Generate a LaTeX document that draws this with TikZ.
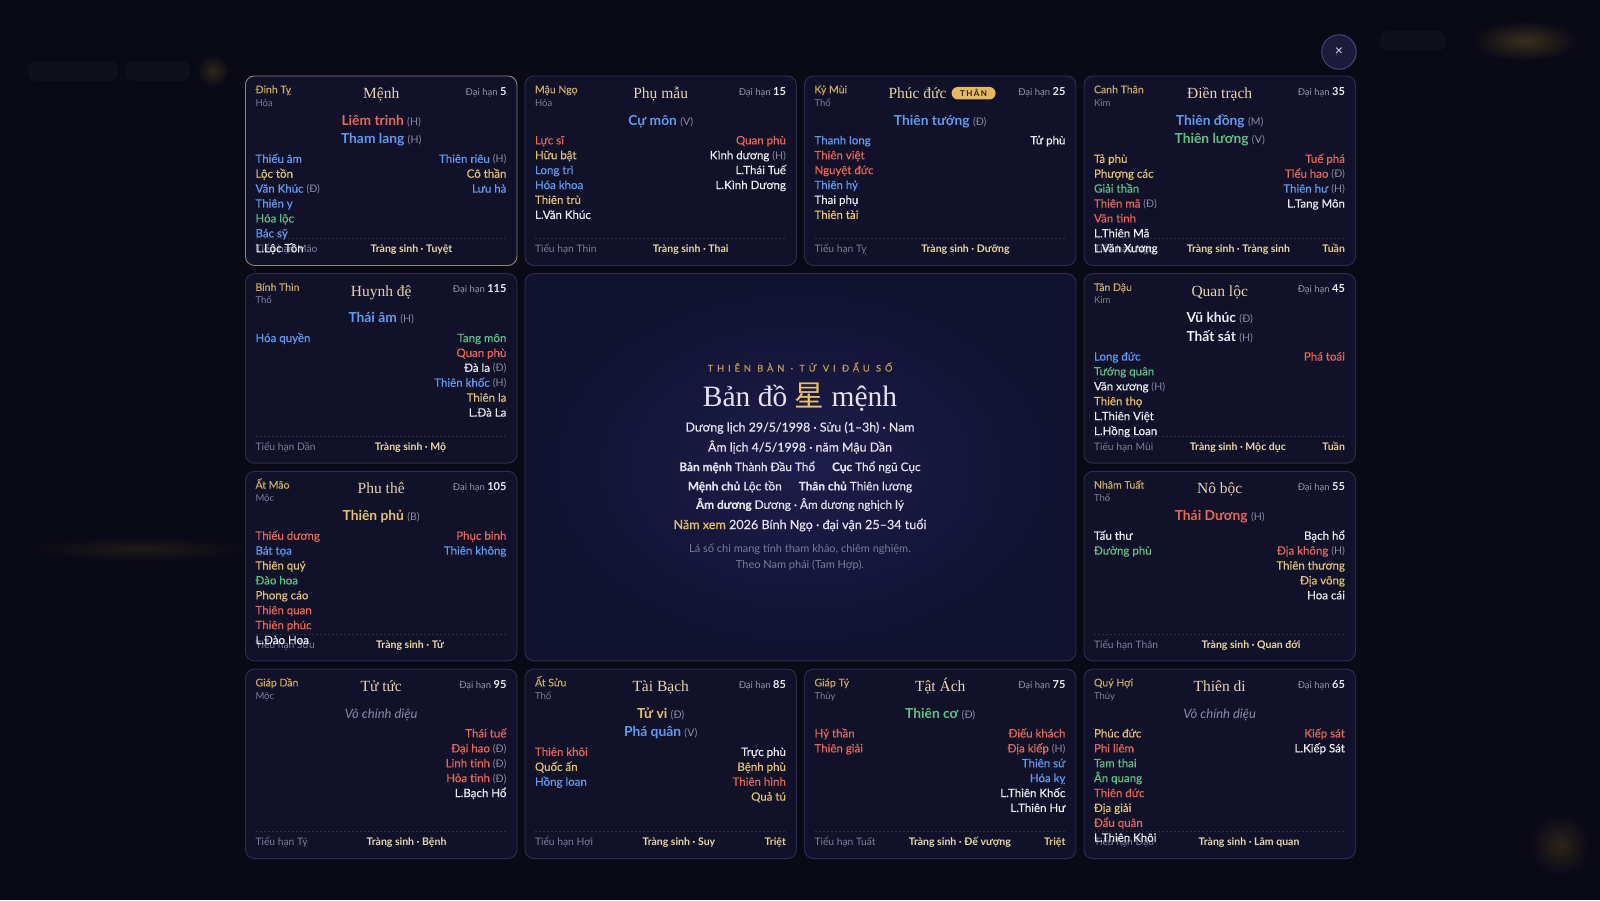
\documentclass[tikz,border=0pt]{standalone}
\usepackage{fontspec}
\setmainfont{Lato}
\newfontfamily\medfont[FakeBold=0.3]{Lato}
\newfontfamily\cungfont{Liberation Serif}
\newfontfamily\cjk{Noto Sans CJK SC}
\usetikzlibrary{calc}
\usetikzlibrary{positioning}
\definecolor{pagebg}{HTML}{0A0A16}
\definecolor{blurbg}{HTML}{10101C}
\definecolor{blurgold}{HTML}{3A2F1C}
\definecolor{cellbg}{HTML}{11112A}
\definecolor{cellline}{HTML}{2E2E4B}
\definecolor{menhline}{HTML}{8E8574}
\definecolor{ccanchi}{HTML}{C9A962}
\definecolor{chanh}{HTML}{7E7E98}
\definecolor{ccung}{HTML}{E6D3B0}
\definecolor{muted}{HTML}{9494AC}
\definecolor{qual}{HTML}{8A8AA4}
\definecolor{sred}{HTML}{E8665A}
\definecolor{sblue}{HTML}{5E9CF0}
\definecolor{sgold}{HTML}{E4C26C}
\definecolor{sgreen}{HTML}{5CC28A}
\definecolor{swhite}{HTML}{ECECF4}
\definecolor{ctsinh}{HTML}{E8D8A8}
\definecolor{ctuan}{HTML}{E8CE88}
\definecolor{csep}{HTML}{2E2E4A}
\definecolor{ctrin}{HTML}{1D1D4A}
\definecolor{ctrout}{HTML}{111130}
\definecolor{btnbg}{HTML}{1D1A3C}
\definecolor{btnline}{HTML}{4C4888}
\definecolor{cbadge}{HTML}{E2B865}
\definecolor{cbadgetext}{HTML}{2B1F0B}
\definecolor{lead}{HTML}{E4E2F2}
\definecolor{cnote}{HTML}{7A7A98}
\definecolor{ckicker}{HTML}{BC9E5E}
\newcommand{\q}[1]{{\normalfont\fontsize{10.5}{12}\selectfont\color{qual}(#1)}}
\newcommand{\daihan}[1]{Đại hạn {\fontsize{11}{12}\selectfont\bfseries\color{swhite}#1}}
\tikzset{
    cell/.style={draw=cellline, fill=cellbg, line width=0.9pt, rounded corners=9pt,
        anchor=north west, minimum width=271.5pt, minimum height=189.5pt, inner sep=0pt},
    txt/.style={inner sep=0pt, outer sep=0pt},
    canchi/.style={txt, anchor=mid west, text=ccanchi, font=\medfont\fontsize{10.5}{12}\selectfont},
    hanh/.style={txt, anchor=mid west, text=chanh, font=\fontsize{9.5}{11}\selectfont},
    cung/.style={txt, anchor=mid, text=ccung, font=\cungfont\fontsize{15.5}{18}\selectfont},
    daihanlbl/.style={txt, anchor=mid east, text=muted, font=\fontsize{9.5}{11}\selectfont},
    chinh/.style={txt, anchor=mid, font=\bfseries\fontsize{13.8}{15}\selectfont},
    voct/.style={txt, anchor=mid, text=qual, font=\itshape\fontsize{13}{14}\selectfont},
    saoL/.style={txt, anchor=mid west, font=\medfont\fontsize{11.5}{13}\selectfont},
    saoR/.style={txt, anchor=mid east, font=\medfont\fontsize{11.5}{13}\selectfont},
    tieuhan/.style={txt, anchor=mid west, text=chanh, font=\fontsize{10.3}{12}\selectfont},
    trangsinh/.style={txt, anchor=mid, text=ctsinh, font=\bfseries\fontsize{10.5}{12}\selectfont},
    tuantriet/.style={txt, anchor=mid east, text=ctuan, font=\bfseries\fontsize{10.5}{12}\selectfont},
    dashsep/.style={draw=csep, line width=0.6pt, dash pattern=on 2pt off 2pt},
    badge/.style={fill=cbadge, rounded corners=6.2pt, minimum width=44pt, minimum height=12.5pt,
        inner sep=0pt, text=cbadgetext, font=\bfseries\fontsize{8}{8}\selectfont\addfontfeature{LetterSpace=18}},
    closebtn/.style={circle, draw=btnline, fill=btnbg, line width=0.9pt, minimum size=34.5pt,
        inner sep=0pt, text=swhite!80!muted, font=\fontsize{14}{14}\selectfont},
    ctkicker/.style={txt, anchor=mid, text=ckicker, font=\medfont\fontsize{9.3}{10}\selectfont\addfontfeature{LetterSpace=42}},
    cttitle/.style={txt, anchor=mid, text=lead, font=\cungfont\fontsize{29.5}{32}\selectfont},
    ctline/.style={txt, anchor=mid, text=lead, font=\medfont\fontsize{12.4}{14}\selectfont},
    ctsmall/.style={txt, anchor=mid, text=lead, font=\medfont\fontsize{11.8}{13}\selectfont},
    ctnote/.style={txt, anchor=center, align=center, text=cnote, font=\fontsize{11}{15.3}\selectfont}
}
% frame, can chi, hanh, dai han and the dashed rule of one palace
\newcommand{\palace}[6][]{%
    \node[cell, #1] (#2) at (#3) {};
    \node[canchi] (#2-cc) at ($(#2.north west)+(10.5,15.2)$) {#4};
    \node[hanh] (#2-hanh) at ($(#2.north west)+(10.5,28)$) {#5};
    \node[daihanlbl] (#2-dh) at ($(#2.north east)+(-11,17)$) {\daihan{#6}};
    \draw[dashsep] ($(#2.north west)+(10.5,163)$) -- ($(#2.north east)+(-10.5,163)$);
}
% bottom line: tieu han, trang sinh, tuan/triet
\newcommand{\footrow}[4]{%
    \node[tieuhan] (#1-th) at ($(#1.north west)+(10.5,174.8)$) {Tiểu hạn #2};
    \node[tuantriet] (#1-tt) at ($(#1.north east)+(-11,174.8)$) {#4};
    \node[trangsinh] (#1-ts) at ($(#1-th.mid east)!0.5!(#1-tt.mid west)$) {Tràng sinh · #3};
}

\begin{document}
\begin{tikzpicture}[x=1pt, y=-1pt]
    \fill[pagebg] (0,0) rectangle (1600,900);
    \useasboundingbox (0,0) rectangle (1600,900);

    % blurred page behind the chart
    \fill[blurbg, rounded corners=8pt] (28,61) rectangle (118,81);
    \fill[blurbg, rounded corners=8pt] (126,61) rectangle (190,81);
    \shade[inner color=blurgold!80!pagebg, outer color=pagebg] (213,71) circle (16);
    \fill[blurbg, rounded corners=8pt] (1380,31) rectangle (1445,51);
    \shade[inner color=blurgold, outer color=pagebg] (1525,41) ellipse (52 and 20);
    \shade[inner color=blurgold!70!pagebg, outer color=pagebg] (1560,845) circle (30);
    \shade[inner color=blurgold!45!pagebg, outer color=pagebg] (140,549) ellipse (110 and 12);

    \node[closebtn] (dong) at (1339,52) {×};

    % ---- row 1 ----
    \palace[draw=menhline]{menh}{245,75.5}{Đinh Tỵ}{Hỏa}{5}
    \node[cung] (menh-ten) at ($(menh.north)+(0,20.5)$) {Mệnh};
    \path ($(menh.north)+(0,47)$)
        node[chinh, sred] (menh-c1) {Liêm trinh \q{H}}
        ++(0,18.3) node[chinh, sblue] (menh-c2) {Tham lang \q{H}};
    \footrow{menh}{Mão}{Tuyệt}{}
    \path ($(menh.north west)+(10.5,84.8)$)
        node[saoL, sblue] (menh-l1) {Thiếu âm}
        ++(0,14.9) node[saoL, sgold] (menh-l2) {Lộc tồn}
        ++(0,14.9) node[saoL, sblue] (menh-l3) {Văn Khúc \q{Đ}}
        ++(0,14.9) node[saoL, sblue] (menh-l4) {Thiên y}
        ++(0,14.9) node[saoL, sgreen] (menh-l5) {Hóa lộc}
        ++(0,14.9) node[saoL, sblue] (menh-l6) {Bác sỹ}
        ++(0,14.9) node[saoL, swhite] (menh-l7) {L.Lộc Tồn};
    \path ($(menh.north east)+(-11,84.8)$)
        node[saoR, sblue] (menh-r1) {Thiên riêu \q{H}}
        ++(0,14.9) node[saoR, sgold] (menh-r2) {Cô thần}
        ++(0,14.9) node[saoR, sblue] (menh-r3) {Lưu hà};

    \palace{phumau}{524.5,75.5}{Mậu Ngọ}{Hỏa}{15}
    \node[cung] (phumau-ten) at ($(phumau.north)+(0,20.5)$) {Phụ mẫu};
    \path ($(phumau.north)+(0,47)$)
        node[chinh, sblue] (phumau-c1) {Cự môn \q{V}};
    \path ($(phumau.north west)+(10.5,66.3)$)
        node[saoL, sred] (phumau-l1) {Lực sĩ}
        ++(0,14.9) node[saoL, sgold] (phumau-l2) {Hữu bật}
        ++(0,14.9) node[saoL, sblue] (phumau-l3) {Long trì}
        ++(0,14.9) node[saoL, sblue] (phumau-l4) {Hóa khoa}
        ++(0,14.9) node[saoL, sgold] (phumau-l5) {Thiên trù}
        ++(0,14.9) node[saoL, swhite] (phumau-l6) {L.Văn Khúc};
    \path ($(phumau.north east)+(-11,66.3)$)
        node[saoR, sred] (phumau-r1) {Quan phù}
        ++(0,14.9) node[saoR, swhite] (phumau-r2) {Kình dương \q{H}}
        ++(0,14.9) node[saoR, swhite] (phumau-r3) {L.Thái Tuế}
        ++(0,14.9) node[saoR, swhite] (phumau-r4) {L.Kình Dương};
    \footrow{phumau}{Thìn}{Thai}{}

    \palace{phucduc}{804,75.5}{Kỷ Mùi}{Thổ}{25}
    \node[cung, anchor=mid east] (phucduc-ten) at ($(phucduc.north)+(6.2,20.5)$) {Phúc đức};
    \node[badge, right=5pt of phucduc-ten] (phucduc-than) {THÂN};
    \path ($(phucduc.north)+(0,47)$)
        node[chinh, sblue] (phucduc-c1) {Thiên tướng \q{Đ}};
    \path ($(phucduc.north west)+(10.5,66.3)$)
        node[saoL, sblue] (phucduc-l1) {Thanh long}
        ++(0,14.9) node[saoL, sred] (phucduc-l2) {Thiên việt}
        ++(0,14.9) node[saoL, sred] (phucduc-l3) {Nguyệt đức}
        ++(0,14.9) node[saoL, sblue] (phucduc-l4) {Thiên hỷ}
        ++(0,14.9) node[saoL, swhite] (phucduc-l5) {Thai phụ}
        ++(0,14.9) node[saoL, sgold] (phucduc-l6) {Thiên tài};
    \path ($(phucduc.north east)+(-11,66.3)$)
        node[saoR, swhite] (phucduc-r1) {Tử phù};
    \footrow{phucduc}{Tỵ}{Dưỡng}{}

    \palace{dientrach}{1083.5,75.5}{Canh Thân}{Kim}{35}
    \node[cung] (dientrach-ten) at ($(dientrach.north)+(0,20.5)$) {Điền trạch};
    \path ($(dientrach.north)+(0,47)$)
        node[chinh, sblue] (dientrach-c1) {Thiên đồng \q{M}}
        ++(0,18.3) node[chinh, sgreen] (dientrach-c2) {Thiên lương \q{V}};
    \path ($(dientrach.north east)+(-11,84.8)$)
        node[saoR, sred] (dientrach-r1) {Tuế phá}
        ++(0,14.9) node[saoR, sred] (dientrach-r2) {Tiểu hao \q{Đ}}
        ++(0,14.9) node[saoR, sblue] (dientrach-r3) {Thiên hư \q{H}}
        ++(0,14.9) node[saoR, swhite] (dientrach-r4) {L.Tang Môn};
    \footrow{dientrach}{Ngọ}{Tràng sinh}{Tuần}
    \path ($(dientrach.north west)+(10.5,84.8)$)
        node[saoL, sgold] (dientrach-l1) {Tả phù}
        ++(0,14.9) node[saoL, sgold] (dientrach-l2) {Phượng các}
        ++(0,14.9) node[saoL, sgreen] (dientrach-l3) {Giải thần}
        ++(0,14.9) node[saoL, sred] (dientrach-l4) {Thiên mã \q{Đ}}
        ++(0,14.9) node[saoL, sred] (dientrach-l5) {Văn tinh}
        ++(0,14.9) node[saoL, swhite] (dientrach-l6) {L.Thiên Mã}
        ++(0,14.9) node[saoL, swhite] (dientrach-l7) {L.Văn Xương};

    % ---- rows 2 and 3, sides ----
    \palace{huynhde}{245,273.2}{Bính Thìn}{Thổ}{115}
    \node[cung] (huynhde-ten) at ($(huynhde.north)+(0,20.5)$) {Huynh đệ};
    \path ($(huynhde.north)+(0,47)$)
        node[chinh, sblue] (huynhde-c1) {Thái âm \q{H}};
    \path ($(huynhde.north west)+(10.5,66.3)$)
        node[saoL, sblue] (huynhde-l1) {Hóa quyền};
    \path ($(huynhde.north east)+(-11,66.3)$)
        node[saoR, sgreen] (huynhde-r1) {Tang môn}
        ++(0,14.9) node[saoR, sred] (huynhde-r2) {Quan phù}
        ++(0,14.9) node[saoR, swhite] (huynhde-r3) {Đà la \q{Đ}}
        ++(0,14.9) node[saoR, sblue] (huynhde-r4) {Thiên khốc \q{H}}
        ++(0,14.9) node[saoR, sgold] (huynhde-r5) {Thiên la}
        ++(0,14.9) node[saoR, swhite] (huynhde-r6) {L.Đà La};
    \footrow{huynhde}{Dần}{Mộ}{}

    \palace{phuthe}{245,470.9}{Ất Mão}{Mộc}{105}
    \node[cung] (phuthe-ten) at ($(phuthe.north)+(0,20.5)$) {Phu thê};
    \path ($(phuthe.north)+(0,47)$)
        node[chinh, sgold] (phuthe-c1) {Thiên phủ \q{B}};
    \path ($(phuthe.north east)+(-11,66.3)$)
        node[saoR, sred] (phuthe-r1) {Phục binh}
        ++(0,14.9) node[saoR, sblue] (phuthe-r2) {Thiên không};
    \footrow{phuthe}{Sửu}{Tử}{}
    \path ($(phuthe.north west)+(10.5,66.3)$)
        node[saoL, sred] (phuthe-l1) {Thiếu dương}
        ++(0,14.9) node[saoL, sblue] (phuthe-l2) {Bát tọa}
        ++(0,14.9) node[saoL, sgold] (phuthe-l3) {Thiên quý}
        ++(0,14.9) node[saoL, sgreen] (phuthe-l4) {Đào hoa}
        ++(0,14.9) node[saoL, sgold] (phuthe-l5) {Phong cáo}
        ++(0,14.9) node[saoL, sred] (phuthe-l6) {Thiên quan}
        ++(0,14.9) node[saoL, sred] (phuthe-l7) {Thiên phúc}
        ++(0,14.9) node[saoL, swhite] (phuthe-l8) {L.Đào Hoa};

    \palace{quanloc}{1083.5,273.2}{Tân Dậu}{Kim}{45}
    \node[cung] (quanloc-ten) at ($(quanloc.north)+(0,20.5)$) {Quan lộc};
    \path ($(quanloc.north)+(0,47)$)
        node[chinh, swhite] (quanloc-c1) {Vũ khúc \q{Đ}}
        ++(0,18.3) node[chinh, swhite] (quanloc-c2) {Thất sát \q{H}};
    \path ($(quanloc.north west)+(10.5,84.8)$)
        node[saoL, sblue] (quanloc-l1) {Long đức}
        ++(0,14.9) node[saoL, sgreen] (quanloc-l2) {Tướng quân}
        ++(0,14.9) node[saoL, swhite] (quanloc-l3) {Văn xương \q{H}}
        ++(0,14.9) node[saoL, sgold] (quanloc-l4) {Thiên thọ}
        ++(0,14.9) node[saoL, swhite] (quanloc-l5) {L.Thiên Việt}
        ++(0,14.9) node[saoL, swhite] (quanloc-l6) {L.Hồng Loan};
    \path ($(quanloc.north east)+(-11,84.8)$)
        node[saoR, sred] (quanloc-r1) {Phá toái};
    \footrow{quanloc}{Mùi}{Mộc dục}{Tuần}

    \palace{nobo}{1083.5,470.9}{Nhâm Tuất}{Thổ}{55}
    \node[cung] (nobo-ten) at ($(nobo.north)+(0,20.5)$) {Nô bộc};
    \path ($(nobo.north)+(0,47)$)
        node[chinh, sred] (nobo-c1) {Thái Dương \q{H}};
    \path ($(nobo.north west)+(10.5,66.3)$)
        node[saoL, swhite] (nobo-l1) {Tấu thư}
        ++(0,14.9) node[saoL, sgreen] (nobo-l2) {Đường phù};
    \path ($(nobo.north east)+(-11,66.3)$)
        node[saoR, swhite] (nobo-r1) {Bạch hổ}
        ++(0,14.9) node[saoR, sred] (nobo-r2) {Địa không \q{H}}
        ++(0,14.9) node[saoR, sgold] (nobo-r3) {Thiên thương}
        ++(0,14.9) node[saoR, sgold] (nobo-r4) {Địa võng}
        ++(0,14.9) node[saoR, swhite] (nobo-r5) {Hoa cái};
    \footrow{nobo}{Thân}{Quan đới}{}

    % ---- centre ----
    \node[cell, minimum width=551pt, minimum height=387.2pt, shade,
          inner color=ctrin, outer color=ctrout] (banmenh) at (524.5,273.2) {};
    \node[ctkicker] (ct-kicker) at (800,369) {THIÊN BÀN · TỬ VI ĐẨU SỐ};
    \node[cttitle] (ct-title) at (800,403.5) {Bản đồ {\cjk\color{sgold}星} mệnh};
    \node[ctline] (ct-duong) at (800,429) {Dương lịch 29/5/1998 · Sửu (1–3h) · Nam};
    \node[ctline] (ct-am) at (800,449) {Âm lịch 4/5/1998 · năm Mậu Dần};
    \node[ctsmall] (ct-banmenh) at (800,468.5) {\textbf{Bản mệnh} Thành Đầu Thổ\hspace{17pt}\textbf{Cục} Thổ ngũ Cục};
    \node[ctsmall] (ct-chu) at (800,487.8) {\textbf{Mệnh chủ} Lộc tồn\hspace{17pt}\textbf{Thân chủ} Thiên lương};
    \node[ctsmall] (ct-amduong) at (800,506.3) {\textbf{Âm dương} Dương · Âm dương nghịch lý};
    \node[ctline, font=\medfont\fontsize{12.6}{14}\selectfont] (ct-namxem) at (800,526.5)
        {{\color{sgold}Năm xem} 2026 Bính Ngọ · đại vận 25–34 tuổi};
    \node[ctnote] (ct-note) at (800,557) {Lá số chỉ mang tính tham khảo, chiêm nghiệm.\\Theo Nam phái (Tam Hợp).};

    % ---- row 4 ----
    \palace{tutuc}{245,668.6}{Giáp Dần}{Mộc}{95}
    \node[cung] (tutuc-ten) at ($(tutuc.north)+(0,20.5)$) {Tử tức};
    \node[voct] (tutuc-c1) at ($(tutuc.north)+(0,47.5)$) {Vô chính diệu};
    \path ($(tutuc.north east)+(-11,66.3)$)
        node[saoR, sred] (tutuc-r1) {Thái tuế}
        ++(0,14.9) node[saoR, sred] (tutuc-r2) {Đại hao \q{Đ}}
        ++(0,14.9) node[saoR, sred] (tutuc-r3) {Linh tinh \q{Đ}}
        ++(0,14.9) node[saoR, sred] (tutuc-r4) {Hỏa tinh \q{Đ}}
        ++(0,14.9) node[saoR, swhite] (tutuc-r5) {L.Bạch Hổ};
    \footrow{tutuc}{Tý}{Bệnh}{}

    \palace{taibach}{524.5,668.6}{Ất Sửu}{Thổ}{85}
    \node[cung] (taibach-ten) at ($(taibach.north)+(0,20.5)$) {Tài Bạch};
    \path ($(taibach.north)+(0,47)$)
        node[chinh, sgold] (taibach-c1) {Tử vi \q{Đ}}
        ++(0,18.3) node[chinh, sblue] (taibach-c2) {Phá quân \q{V}};
    \path ($(taibach.north west)+(10.5,84.8)$)
        node[saoL, sred] (taibach-l1) {Thiên khôi}
        ++(0,14.9) node[saoL, sgold] (taibach-l2) {Quốc ấn}
        ++(0,14.9) node[saoL, sblue] (taibach-l3) {Hồng loan};
    \path ($(taibach.north east)+(-11,84.8)$)
        node[saoR, swhite] (taibach-r1) {Trực phù}
        ++(0,14.9) node[saoR, sgold] (taibach-r2) {Bệnh phù}
        ++(0,14.9) node[saoR, sred] (taibach-r3) {Thiên hình}
        ++(0,14.9) node[saoR, sgold] (taibach-r4) {Quả tú};
    \footrow{taibach}{Hợi}{Suy}{Triệt}

    \palace{tatach}{804,668.6}{Giáp Tý}{Thủy}{75}
    \node[cung] (tatach-ten) at ($(tatach.north)+(0,20.5)$) {Tật Ách};
    \path ($(tatach.north)+(0,47)$)
        node[chinh, sgreen] (tatach-c1) {Thiên cơ \q{Đ}};
    \path ($(tatach.north west)+(10.5,66.3)$)
        node[saoL, sred] (tatach-l1) {Hỷ thần}
        ++(0,14.9) node[saoL, sred] (tatach-l2) {Thiên giải};
    \path ($(tatach.north east)+(-11,66.3)$)
        node[saoR, sred] (tatach-r1) {Điếu khách}
        ++(0,14.9) node[saoR, sred] (tatach-r2) {Địa kiếp \q{H}}
        ++(0,14.9) node[saoR, sblue] (tatach-r3) {Thiên sứ}
        ++(0,14.9) node[saoR, sblue] (tatach-r4) {Hóa kỵ}
        ++(0,14.9) node[saoR, swhite] (tatach-r5) {L.Thiên Khốc}
        ++(0,14.9) node[saoR, swhite] (tatach-r6) {L.Thiên Hư};
    \footrow{tatach}{Tuất}{Đế vượng}{Triệt}

    \palace{thiendi}{1083.5,668.6}{Quý Hợi}{Thủy}{65}
    \node[cung] (thiendi-ten) at ($(thiendi.north)+(0,20.5)$) {Thiên di};
    \node[voct] (thiendi-c1) at ($(thiendi.north)+(0,47.5)$) {Vô chính diệu};
    \path ($(thiendi.north east)+(-11,66.3)$)
        node[saoR, sred] (thiendi-r1) {Kiếp sát}
        ++(0,14.9) node[saoR, swhite] (thiendi-r2) {L.Kiếp Sát};
    \footrow{thiendi}{Dậu}{Lâm quan}{}
    \path ($(thiendi.north west)+(10.5,66.3)$)
        node[saoL, sgold] (thiendi-l1) {Phúc đức}
        ++(0,14.9) node[saoL, sred] (thiendi-l2) {Phi liêm}
        ++(0,14.9) node[saoL, sgreen] (thiendi-l3) {Tam thai}
        ++(0,14.9) node[saoL, sgreen] (thiendi-l4) {Ân quang}
        ++(0,14.9) node[saoL, sred] (thiendi-l5) {Thiên đức}
        ++(0,14.9) node[saoL, sgold] (thiendi-l6) {Địa giải}
        ++(0,14.9) node[saoL, sred] (thiendi-l7) {Đẩu quân}
        ++(0,14.9) node[saoL, swhite] (thiendi-l8) {L.Thiên Khôi};
\end{tikzpicture}
\end{document}
